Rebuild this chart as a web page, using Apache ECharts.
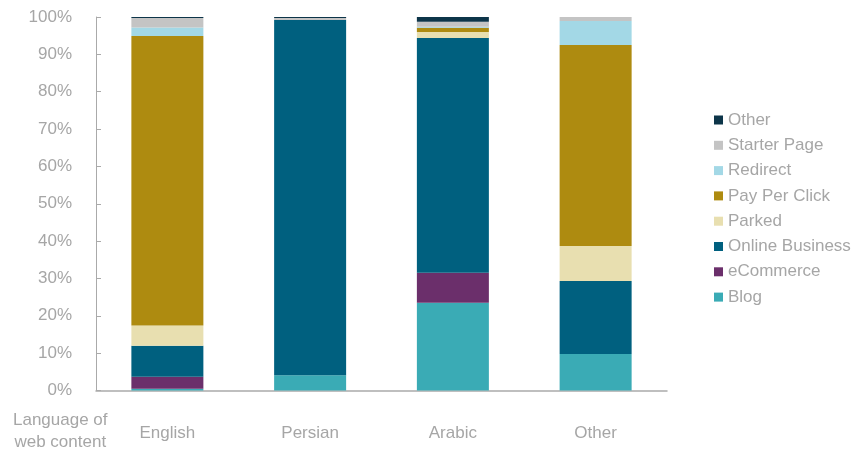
<!DOCTYPE html>
<html>
<head>
<meta charset="utf-8">
<script src="https://cdn.jsdelivr.net/npm/echarts@6/dist/echarts.min.js"></script>
<style>html,body{margin:0;padding:0;background:#fff}#c{width:858px;height:452px}</style>
</head>
<body>
<div id="c"></div>
<script>
var categories = ['English', 'Persian', 'Arabic', 'Other'];
var seriesNames = ['Blog', 'eCommerce', 'Online Business', 'Parked', 'Pay Per Click', 'Redirect', 'Starter Page', 'Other'];
var blog = [0.5, 4.1, 23.5, 9.8];
var ecommerce = [3.2, 0, 8.0, 0];
var onlineBusiness = [8.3, 95.1, 62.9, 19.5];
var parked = [5.4, 0, 1.6, 9.4];
var payPerClick = [77.5, 0, 1.1, 53.8];
var redirect = [2.3, 0, 0.3, 6.4];
var starterPage = [2.5, 0.5, 1.3, 1.1];
var other = [0.3, 0.3, 1.3, 0];
var yTicks = [0, 10, 20, 30, 40, 50, 60, 70, 80, 90, 100];

var values = [blog, ecommerce, onlineBusiness, parked, payPerClick, redirect, starterPage, other];
var colors = ['#3aabb5', '#6b2f6b', '#00607f', '#e8dfb0', '#ae8b10', '#a3d8e6', '#c4c4c4', '#0d3549'];
var gray = '#a6a6a6';
var font = 'Liberation Sans, Arial, Helvetica, sans-serif';

var chart = echarts.init(document.getElementById('c'), null, {renderer: 'canvas'});
chart.setOption({
  animation: false,
  color: colors,
  grid: {left: 96, right: 191, top: 17, bottom: 61.5},
  legend: {
    orient: 'vertical',
    left: 714,
    top: 111.5,
    padding: 0,
    itemWidth: 9,
    itemHeight: 9,
    itemGap: 8.3,
    icon: 'rect',
    data: seriesNames.slice().reverse(),
    textStyle: {color: gray, fontSize: 17, fontFamily: font, lineHeight: 17, padding: [0, 0, 0, 0]}
  },
  xAxis: {
    type: 'category',
    data: categories,
    axisLine: {show: true, lineStyle: {color: '#aaaaaa', width: 1.5}},
    axisTick: {show: false},
    axisLabel: {color: gray, fontSize: 17, fontFamily: font, margin: 34}
  },
  yAxis: {
    type: 'value',
    min: yTicks[0],
    max: yTicks[yTicks.length - 1],
    interval: 10,
    splitLine: {show: false},
    axisLine: {show: true, lineStyle: {color: '#aaaaaa', width: 1}},
    axisTick: {show: true, inside: true, length: 5, lineStyle: {color: '#aaaaaa'}},
    axisLabel: {color: gray, fontSize: 17, fontFamily: font, margin: 24, formatter: '{value}%'}
  },
  graphic: [{
    type: 'text',
    left: 13,
    top: 409,
    style: {text: 'Language of\nweb content', fill: gray, font: '17px ' + font, textAlign: 'center', lineHeight: 22}
  }],
  series: seriesNames.map(function (name, i) {
    return {
      name: name,
      type: 'bar',
      stack: 'total',
      barWidth: 72,
      data: values[i],
      itemStyle: {color: colors[i]}
    };
  })
});
</script>
</body>
</html>
